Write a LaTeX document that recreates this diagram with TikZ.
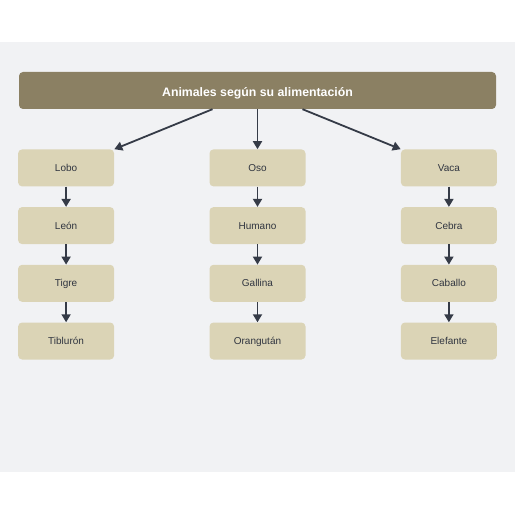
\documentclass[tikz,border=0pt]{standalone}
\usepackage{fontspec}
\setmainfont{Liberation Sans}
\usetikzlibrary{positioning,arrows.meta}
\definecolor{alBack}{RGB}{241,242,244}
\definecolor{alHead}{RGB}{139,128,99}
\definecolor{alBox}{RGB}{219,212,182}
\definecolor{alLine}{RGB}{53,59,71}

\begin{document}
\begin{tikzpicture}[
  x=1pt, y=-1pt,
  node distance=20.3pt,
  every node/.style={font=\fontsize{10}{12}\selectfont},
  head/.style={fill=alHead, rounded corners=4pt, minimum width=477pt, minimum height=37pt, text height=11.5pt, text depth=0pt, text=white, font=\fontsize{12.3}{14}\selectfont\bfseries},
  animal/.style={fill=alBox, rounded corners=4pt, minimum width=96pt, minimum height=37pt, text height=7.2pt, text depth=0pt, text=alLine!90!black},
  arrow/.style={-{Triangle[width=9pt,length=8pt]}, line width=1.8pt, alLine}
]
\useasboundingbox (0,0) rectangle (516,516);
\fill[alBack] (0,42) rectangle (515,472);

% Title
\node[head] (title) at (257.5,90.5) {Animales según su alimentación};

% Middle column
\node[animal, below=40pt of title] (oso) {Oso};
\node[animal, below=of oso] (humano) {Humano};
\node[animal, below=of humano] (gallina) {Gallina};
\node[animal, below=of gallina] (orangutan) {Orangután};

% Left column
\node[animal, left=95pt of oso] (lobo) {Lobo};
\node[animal, below=of lobo] (leon) {León};
\node[animal, below=of leon] (tigre) {Tigre};
\node[animal, below=of tigre] (tiburon) {Tiblurón};

% Right column
\node[animal, right=95pt of oso] (vaca) {Vaca};
\node[animal, below=of vaca] (cebra) {Cebra};
\node[animal, below=of cebra] (caballo) {Caballo};
\node[animal, below=of caballo] (elefante) {Elefante};

% Arrows from the title
\draw[arrow] ([xshift=-45pt]title.south) -- (lobo.north east);
\draw[arrow] (title.south) -- (oso.north);
\draw[arrow] ([xshift=45pt]title.south) -- (vaca.north west);

% Arrows in the columns
\draw[arrow] (lobo) -- (leon);
\draw[arrow] (leon) -- (tigre);
\draw[arrow] (tigre) -- (tiburon);
\draw[arrow] (oso) -- (humano);
\draw[arrow] (humano) -- (gallina);
\draw[arrow] (gallina) -- (orangutan);
\draw[arrow] (vaca) -- (cebra);
\draw[arrow] (cebra) -- (caballo);
\draw[arrow] (caballo) -- (elefante);

\end{tikzpicture}
\end{document}
